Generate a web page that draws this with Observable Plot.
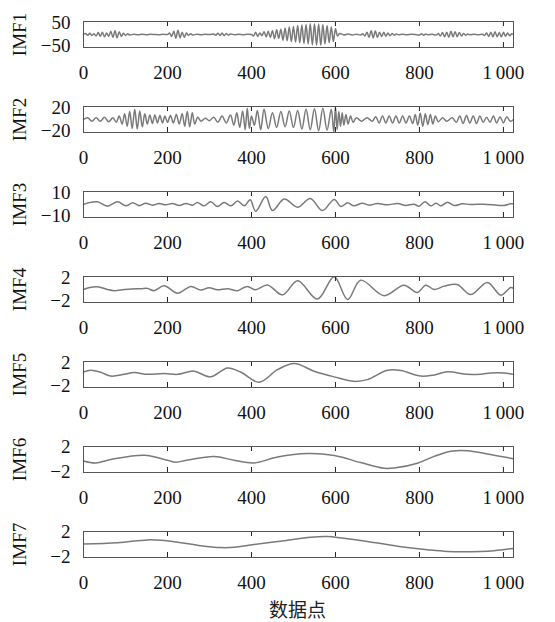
<!DOCTYPE html>
<html>
<head>
<meta charset="utf-8">
<script src="https://cdn.jsdelivr.net/npm/d3@7"></script>
<script src="https://cdn.jsdelivr.net/npm/@observablehq/plot@0.6"></script>
<style>
  html, body { margin: 0; padding: 0; background: #fff; }
  #chart svg { display: block; font-family: "Liberation Serif", "Times New Roman", "DejaVu Serif", serif !important; }
  #chart svg text { font-family: "Liberation Serif", "Times New Roman", "DejaVu Serif", serif !important; }
  #xlabel { width: 429px; margin-left: 83px; text-align: center; font-family: "Noto Sans CJK SC", sans-serif; font-size: 19px; line-height: 22px; height: 22px; margin-top: 3px; color: #222; }
</style>
</head>
<body>
<div id="chart"></div>
<div id="xlabel">数据点</div>
<script>
// ---- data ----
const panelNames = ["IMF1", "IMF2", "IMF3", "IMF4", "IMF5", "IMF6", "IMF7"];
const xTicks = [0, 200, 400, 600, 800, 1000];
const xTickLabels = ["0", "200", "400", "600", "800", "1\u2009000"];
const yTicks = [[-50, 50], [-20, 20], [-10, 10], [-2, 2], [-2, 2], [-2, 2], [-2, 2]];
const yTickLabels = [["−50", "50"], ["−20", "20"], ["−10", "10"], ["−2", "2"], ["−2", "2"], ["−2", "2"], ["−2", "2"]];
const yDomains = [[-55, 55], [-23, 23], [-11.5, 11.5], [-2.3, 2.3], [-2.25, 2.2], [-2.1, 2.1], [-2.1, 2.1]];

const imf1X = [0,5,10,15,20,25,30,35,40,45,50,55,60,65,70,75,80,85,90,95,100,105,110,120,130,140,150,160,170,180,190,200,205,210,215,220,225,230,235,240,245,250,255,260,270,280,290,300,310,315,320,325,330,335,340,345,350,360,370,380,390,400,405,410,415,420,425,430,435,440,445,450,455,460,465,470,475,480,485,490,495,500,505,510,515,520,525,530,535,540,545,550,555,560,565,570,575,580,585,590,595,600,605,610,620,630,640,650,660,665,670,675,680,685,690,695,700,705,710,715,720,725,730,735,740,745,750,760,770,780,790,800,805,810,815,820,830,840,845,850,855,860,865,870,875,880,885,890,895,900,905,910,915,920,930,940,950,955,960,965,970,975,980,985,990,995,1000,1005,1010,1015,1020,1024];
const imf1Y = [0,4,-3,5,-4,3,-6,8,-7,9,-10,6,-8,14,-12,16,-14,12,-8,5,-4,3,-2,1,-1,1,-1,1,0,-1,1,0,6,-8,14,-16,18,-14,10,-12,6,-4,3,-2,1,-1,1,0,2,-3,5,-4,6,-5,4,-3,2,-1,1,-1,1,0,-6,10,-8,6,-5,12,-10,14,-12,16,-18,20,-16,22,-24,28,-26,32,-30,34,-32,38,-35,40,-38,42,-40,45,-44,46,-45,44,-46,42,-40,38,-35,32,-30,24,-6,4,-2,2,-2,1,-2,3,-6,10,-12,16,-14,15,-12,10,-8,9,-7,6,-5,4,-3,2,-1,1,-1,1,0,-2,3,-3,2,-1,1,-2,4,-6,8,-10,9,-12,14,-10,12,-9,8,-6,4,-3,2,-1,1,-1,1,-4,6,-8,10,-10,12,-9,8,-10,9,-7,6,-5,3,0];

const imf2X = [0,10,20,30,40,50,60,70,78,85,92,98,104,110,116,122,128,134,140,146,152,158,164,170,176,182,188,194,200,207,214,221,228,235,241,247,253,259,265,272,280,290,300,310,320,330,340,350,358,365,372,379,385,390,395,400,407,414,422,430,440,450,460,470,480,490,500,510,520,530,540,550,560,570,580,590,596,600,604,608,612,616,620,625,630,636,642,650,662,675,688,696,704,712,720,728,736,744,752,760,768,776,784,790,796,802,808,814,820,826,832,838,845,855,865,878,888,896,904,912,920,928,936,944,952,960,968,976,984,992,1000,1008,1016,1024];
const imf2Y = [0,3,-3,3,-3,4,-4,3,-5,6,-8,10,-12,14,-16,18,-17,15,-13,10,-8,8,-7,8,-6,7,-6,6,-5,7,-6,9,-8,10,-12,14,-13,12,-8,4,-3,2,-2,4,-5,6,-6,8,-10,12,-14,15,-18,20,-16,6,-10,16,-18,18,-16,12,-14,14,-13,15,-14,16,-17,18,-18,19,-20,20,-19,18,-22,22,-18,14,-12,12,-10,9,-8,6,-5,3,-3,3,-3,5,-6,6,-6,6,-6,6,-6,6,-6,6,-7,9,-10,11,-12,10,-9,9,-8,6,-4,3,-3,3,-5,6,-7,7,-6,6,-7,6,-5,4,-5,6,-6,5,-6,5,-3,0];

const imf3X = [0,12,33,57,81,101,117,133,148,164,180,196,212,228,244,260,271,287,303,319,335,351,367,383,397,410,434,450,478,510,540,569,597,613,629,644,664,680,700,724,748,767,787,799,813,827,840,851,867,883,902,922,953,985,1002,1017,1024];
const imf3Y = [0,1.5,2.4,-1.5,2.4,-1.2,1.5,-1,1.2,-0.6,0.9,-0.3,0.9,-0.9,0.9,-0.6,1.8,-1.2,2.4,-1.8,1.8,-1.2,3,-1.2,4.2,-6,7,-5.4,4.8,-2.4,5.4,-5.4,4.5,-1.8,1.5,-1.2,1.2,-0.6,0.9,-0.3,0.9,-0.9,0.3,-1.5,2.4,-1.2,1.2,-1.2,2.1,-0.9,0.6,0,0.3,-0.6,-0.9,0.6,0.6];

const imf4X = [0,12,33,57,73,97,113,137,152,168,192,224,256,279,299,319,343,367,390,410,438,474,510,557,597,629,660,716,763,795,815,835,859,890,922,962,994,1017,1024];
const imf4Y = [0,0.3,0.5,0,-0.2,0,0.1,0.15,0.2,-0.2,0.65,-0.65,0.55,-0.1,0.3,-0.05,0.15,-0.2,0.55,-0.05,0.8,-0.95,1.55,-1.7,2.25,-1.77,1.65,-1.1,0.77,-0.53,0.77,0,0.6,0.9,-0.9,1.24,-1.0,0.35,0.2];

const imf5X = [0,17,41,65,97,121,152,192,224,263,302,343,375,418,462,502,549,597,644,676,724,756,803,835,867,914,946,970,1002,1021,1024];
const imf5Y = [0.4,0.7,0.35,-0.3,0,0.3,0,0.15,0,0.55,-0.43,1.1,0.35,-1.35,0.8,1.85,0.54,-0.43,-1.2,-0.9,0.7,0.65,-0.3,-0.1,0.43,0,0.03,0.25,0.25,0.02,0];

const imf6X = [0,29,65,145,200,220,248,311,359,406,462,533,597,660,716,740,795,835,875,914,962,1023];
const imf6Y = [-0.23,-0.55,0,0.7,-0.13,-0.44,-0.08,0.5,-0.13,-0.55,0.4,0.96,0.65,-0.5,-1.43,-1.38,-0.6,0.5,1.33,1.43,0.9,0.13];

const imf7X = [0,81,152,184,232,279,327,359,406,478,541,581,620,676,756,819,867,946,978,1023];
const imf7Y = [0.08,0.3,0.74,0.68,0.3,-0.2,-0.5,-0.45,0,0.6,1.17,1.28,1.0,0.5,-0.35,-0.85,-1.12,-1.12,-1.0,-0.63];

const seriesX = [imf1X, imf2X, imf3X, imf4X, imf5X, imf6X, imf7X];
const seriesY = [imf1Y, imf2Y, imf3Y, imf4Y, imf5Y, imf6Y, imf7Y];

// ---- drawing ----
const FONT = "Liberation Serif, Times New Roman, DejaVu Serif, serif";
const container = document.getElementById("chart");

panelNames.forEach((name, i) => {
  const data = seriesX[i].map((x, k) => ({x, y: seriesY[i][k]}));
  const yl = yTickLabels[i];
  const yt = yTicks[i];
  const plot = Plot.plot({
    width: 555,
    height: 85,
    marginLeft: 83,
    marginRight: 42,
    marginTop: 21,
    marginBottom: 38,
    style: {fontSize: "19px", color: "#111", background: "#fff", overflow: "visible"},
    x: {domain: [0, 1024]},
    y: {domain: yDomains[i]},
    marks: [
      Plot.lineY(data, {x: "x", y: "y", stroke: "#7a7a7a", strokeWidth: 1.5, curve: "catmull-rom"}),
      Plot.ruleX(xTicks, {x: d => d, insetTop: 21, stroke: "#222", strokeWidth: 1}),
      Plot.ruleX(xTicks, {x: d => d, insetBottom: 21, stroke: "#222", strokeWidth: 1}),
      Plot.frame({stroke: "#555", strokeWidth: 1}),
      Plot.axisX({
        ticks: xTicks, tickSize: 0, tickPadding: 18, label: null,
        tickFormat: d => xTickLabels[xTicks.indexOf(d)],
        fontSize: 19, fontFamily: FONT, fill: "#111"
      }),
      Plot.axisY({
        ticks: yt, tickSize: 0, tickPadding: 13, label: null,
        tickFormat: d => yl[yt.indexOf(d)],
        fontSize: 19, fontFamily: FONT, fill: "#111"
      }),
      Plot.text([name], {text: d => d, frameAnchor: "left", textAnchor: "middle", rotate: -90, dx: -64, fontSize: 19, fontFamily: FONT, fill: "#111"})
    ]
  });
  container.appendChild(plot);
});
</script>
</body>
</html>
